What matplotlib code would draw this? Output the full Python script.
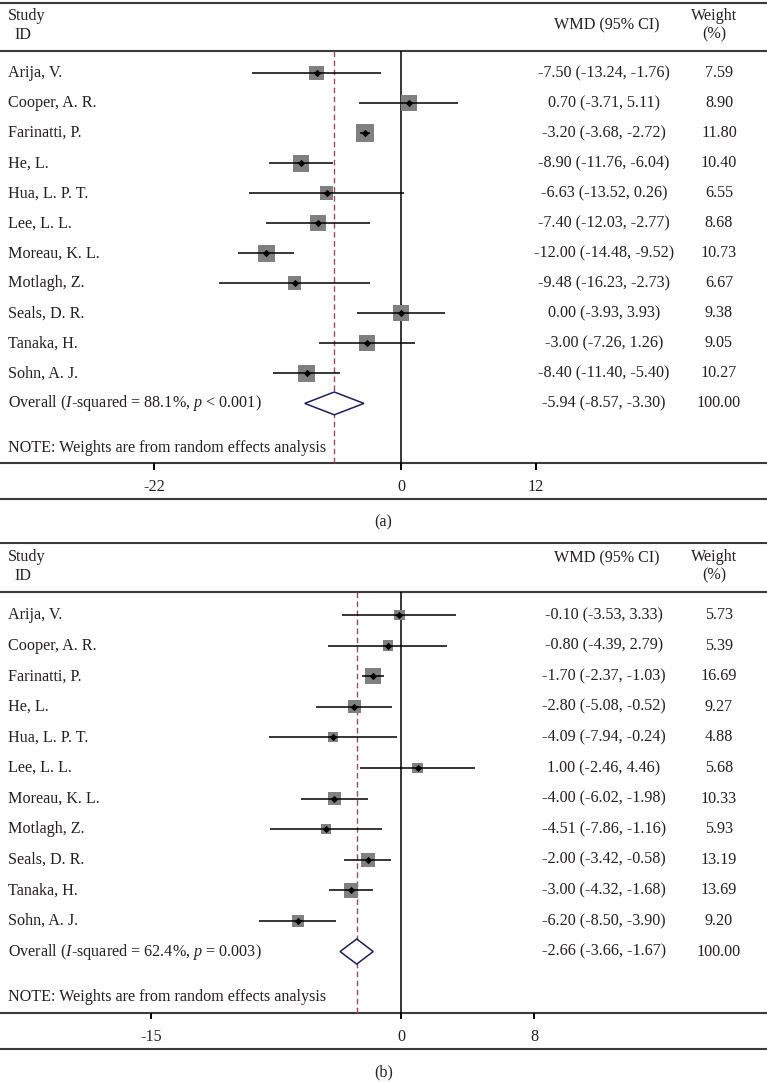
import numpy as np
import matplotlib.pyplot as plt

plt.rcParams['font.family'] = ['Liberation Serif', 'DejaVu Serif']
plt.rcParams['mathtext.fontset'] = 'custom'
plt.rcParams['mathtext.rm'] = 'Liberation Serif'
plt.rcParams['mathtext.it'] = 'Liberation Serif:italic'

studies = ['Arija, V.', 'Cooper, A. R.', 'Farinatti, P.', 'He, L.', 'Hua, L. P. T.',
           'Lee, L. L.', 'Moreau, K. L.', 'Motlagh, Z.', 'Seals, D. R.', 'Tanaka, H.',
           'Sohn, A. J.']

# panel (a)
a_est = [-7.50, 0.70, -3.20, -8.90, -6.63, -7.40, -12.00, -9.48, 0.00, -3.00, -8.40]
a_lo = [-13.24, -3.71, -3.68, -11.76, -13.52, -12.03, -14.48, -16.23, -3.93, -7.26, -11.40]
a_hi = [-1.76, 5.11, -2.72, -6.04, 0.26, -2.77, -9.52, -2.73, 3.93, 1.26, -5.40]
a_wt = [7.59, 8.90, 11.80, 10.40, 6.55, 8.68, 10.73, 6.67, 9.38, 9.05, 10.27]
a_overall = (-5.94, -8.57, -3.30)
a_overall_label = r'Overall ($I$-squared = 88.1%, $p$ < 0.001)'
a_ticks = [-22, 0, 12]

# panel (b)
b_est = [-0.10, -0.80, -1.70, -2.80, -4.09, 1.00, -4.00, -4.51, -2.00, -3.00, -6.20]
b_lo = [-3.53, -4.39, -2.37, -5.08, -7.94, -2.46, -6.02, -7.86, -3.42, -4.32, -8.50]
b_hi = [3.33, 2.79, -1.03, -0.52, -0.24, 4.46, -1.98, -1.16, -0.58, -1.68, -3.90]
b_wt = [5.73, 5.39, 16.69, 9.27, 4.88, 5.68, 10.33, 5.93, 13.19, 13.69, 9.20]
b_overall = (-2.66, -3.66, -1.67)
b_overall_label = r'Overall ($I$-squared = 62.4%, $p$ = 0.003)'
b_ticks = [-15, 0, 8]

txt = '#231f20'
rule = '#3a3a3a'
fs = 11.6


def draw_panel(ax, est, lo, hi, wt, overall, ov_label, ticks, xlim, box_c, box_d,
               diam_h, wmd_y):
    n = len(est)
    rows = np.arange(1, n + 1)
    ov_row = n + 1
    ax.set_xlim(*xlim)
    ax.set_ylim(15.25, -1.4)
    ax.axis('off')
    tr = ax.get_yaxis_transform()

    # rules
    for y in [-1.35, 0.25, 14.0, 15.2]:
        ax.axhline(y, color=rule, lw=1.5, zorder=1)

    # zero line and overall dashed line
    ax.vlines(0, 0.25, 14.0, color='black', lw=1.1, zorder=2)
    ax.vlines(overall[0], 0.25, 14.0, color='#a0485a', lw=1.0,
              linestyles=(0, (4, 2.5)), zorder=2)

    # squares (side in px grows with sqrt of weight), CI lines, centre points
    side_pt = (box_c + box_d * np.sqrt(wt)) / 1.389
    ax.scatter(est, rows, s=side_pt ** 2, marker='s', color='#808080',
               linewidths=0, zorder=3)
    ax.hlines(rows, lo, hi, color='black', lw=1.1, zorder=4)
    ax.scatter(est, rows, s=14, marker='D', color='black', linewidths=0, zorder=5)

    # overall diamond
    e, l, h = overall
    ax.fill([l, e, h, e, l], [ov_row, ov_row - diam_h, ov_row, ov_row + diam_h, ov_row],
            facecolor='white', edgecolor='#1f1f5c', lw=1.1, zorder=4)

    # headers
    ax.text(0.0104, -0.9, 'Study', transform=tr, fontsize=fs, color=txt, va='center')
    ax.text(0.0185, -0.28, 'ID', transform=tr, fontsize=fs, color=txt, va='center')
    ax.text(0.791, wmd_y, 'WMD (95% CI)', transform=tr, fontsize=fs, color=txt,
            va='center', ha='center')
    ax.text(0.931, -0.9, 'Weight', transform=tr, fontsize=fs, color=txt,
            va='center', ha='center')
    ax.text(0.931, -0.3, '(%)', transform=tr, fontsize=fs, color=txt,
            va='center', ha='center')

    # rows
    for r, name, e_, l_, h_, w in zip(rows, studies, est, lo, hi, wt):
        ax.text(0.0104, r, name, transform=tr, fontsize=fs, color=txt, va='center')
        ax.text(0.7875, r, f'{e_:.2f} ({l_:.2f}, {h_:.2f})', transform=tr,
                fontsize=fs, color=txt, va='center', ha='center')
        ax.text(0.9374, r, f'{w:.2f}', transform=tr, fontsize=fs, color=txt,
                va='center', ha='center')
    ax.text(0.0104, ov_row, ov_label, transform=tr, fontsize=fs, color=txt, va='center')
    ax.text(0.7875, ov_row, f'{e:.2f} ({l:.2f}, {h:.2f})', transform=tr,
            fontsize=fs, color=txt, va='center', ha='center')
    ax.text(0.9374, ov_row, '100.00', transform=tr, fontsize=fs, color=txt,
            va='center', ha='center')
    ax.text(0.0104, 13.5, 'NOTE: Weights are from random effects analysis',
            transform=tr, fontsize=fs, color=txt, va='center')

    # x axis ticks
    ax.vlines(ticks, 14.0, 14.22, color='black', lw=1.4, zorder=2)
    for t in ticks:
        ax.text(t, 14.78, f'{t}', fontsize=fs, color=txt, va='center', ha='center')


fig = plt.figure(figsize=(7.67, 10.82), dpi=100)

ax_a = fig.add_axes([0, 1 - 501 / 1082, 1, 500 / 1082])
draw_panel(ax_a, a_est, a_lo, a_hi, a_wt, a_overall, a_overall_label, a_ticks,
           (-401 / 11.23, 366 / 11.23), 1.9, 4.6, 0.38, -0.6)

ax_b = fig.add_axes([0, 1 - 1051 / 1082, 1, 509.5 / 1082])
draw_panel(ax_b, b_est, b_lo, b_hi, b_wt, b_overall, b_overall_label, b_ticks,
           (-401 / 16.65, 366 / 16.65), 3.3, 3.03, 0.41, -0.85)

fig.text(0.5, 1 - 522 / 1082, '(a)', fontsize=fs, color=txt, ha='center', va='center')
fig.text(0.5, 1 - 1072 / 1082, '(b)', fontsize=fs, color=txt, ha='center', va='center')

fig.savefig('out.png', dpi=100)
